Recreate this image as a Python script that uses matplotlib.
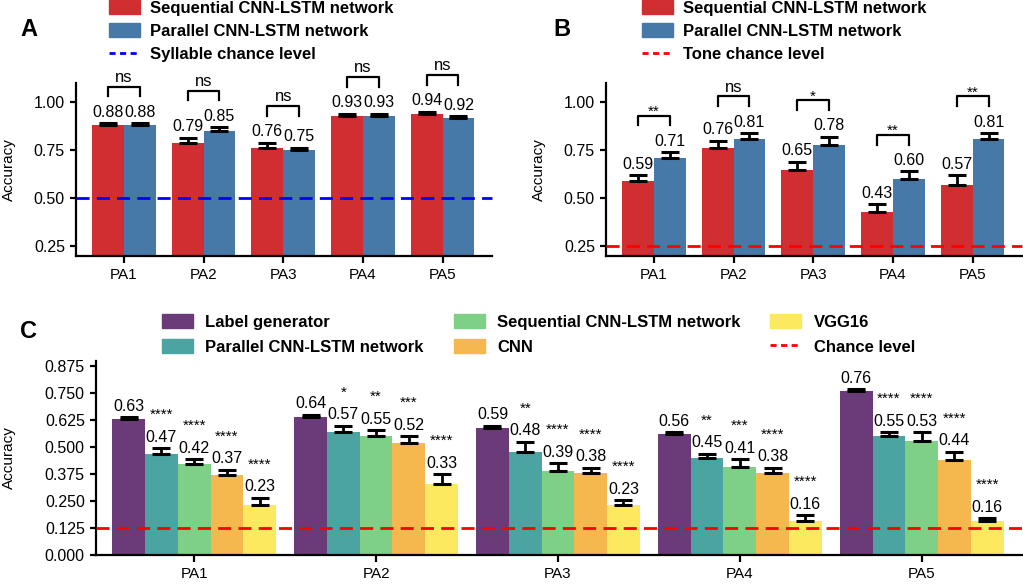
import numpy as np
import matplotlib.pyplot as plt
from matplotlib.patches import Patch
from matplotlib.lines import Line2D

plt.rcParams['font.family'] = ['Liberation Sans', 'DejaVu Sans']

# =========================================
# DATA
# =========================================

participants = ["PA1", "PA2", "PA3", "PA4", "PA5"]

# panel A : syllable
syl_seq = [0.88, 0.79, 0.76, 0.93, 0.94]
syl_seq_err = [0.01, 0.025, 0.03, 0.01, 0.01]
syl_par = [0.88, 0.85, 0.75, 0.93, 0.92]
syl_par_err = [0.01, 0.02, 0.013, 0.01, 0.007]
syl_sig = ["ns", "ns", "ns", "ns", "ns"]
syl_chance = 0.5

# panel B : tone
tone_seq = [0.59, 0.76, 0.65, 0.43, 0.57]
tone_seq_err = [0.03, 0.04, 0.04, 0.04, 0.05]
tone_par = [0.71, 0.81, 0.78, 0.60, 0.81]
tone_par_err = [0.03, 0.03, 0.04, 0.04, 0.03]
tone_sig = ["**", "ns", "*", "**", "**"]
tone_chance = 0.25

# panel C : label
models = ["Label generator", "Parallel CNN-LSTM network",
          "Sequential CNN-LSTM network", "CNN", "VGG16"]
label_gen = [0.63, 0.64, 0.59, 0.56, 0.76]
label_gen_err = [0.01, 0.01, 0.01, 0.01, 0.01]
label_par = [0.47, 0.57, 0.48, 0.45, 0.55]
label_par_err = [0.025, 0.03, 0.045, 0.02, 0.02]
label_seq = [0.42, 0.55, 0.39, 0.41, 0.53]
label_seq_err = [0.025, 0.03, 0.035, 0.035, 0.04]
label_cnn = [0.37, 0.52, 0.38, 0.38, 0.44]
label_cnn_err = [0.025, 0.03, 0.025, 0.025, 0.04]
label_vgg = [0.23, 0.33, 0.23, 0.16, 0.16]
label_vgg_err = [0.035, 0.045, 0.025, 0.025, 0.01]
sig_par = ["****", "*", "**", "**", "****"]
sig_seq = ["****", "**", "****", "***", "****"]
sig_cnn = ["****", "***", "****", "****", "****"]
sig_vgg = ["****", "****", "****", "****", "****"]
label_chance = 0.125

# =========================================
# STYLE
# =========================================

RED = "#D12E32"
BLUE = "#4779A8"
C_COLORS = ["#6A3B78", "#4BA3A2", "#7DD085", "#F5B84F", "#FDE95F"]

FS_TICK = 11.5
FS_VAL = 11.5
FS_LEG = 12

fig = plt.figure(figsize=(10.23, 5.85), dpi=100)

axA = fig.add_axes([0.0743, 0.5624, 0.4066, 0.2957])
axB = fig.add_axes([0.5924, 0.5624, 0.4066, 0.2957])
axC = fig.add_axes([0.0938, 0.0513, 0.905, 0.3316])


def style_axis(ax):
    ax.spines["top"].set_visible(False)
    ax.spines["right"].set_visible(False)
    for s in ["left", "bottom"]:
        ax.spines[s].set_linewidth(1.6)
    ax.tick_params(axis="both", width=1.6, length=4.5, labelsize=FS_TICK)
    ax.tick_params(axis="x", length=5, labelsize=11)
    ax.set_ylabel("Accuracy", fontsize=11)


def add_bars(ax, x, vals, errs, color, width):
    ax.bar(x, vals, width, color=color, zorder=2)
    ax.errorbar(x, vals, yerr=[np.zeros(len(vals)), errs], fmt="none",
                ecolor="black", elinewidth=2, capsize=6.5, capthick=2.2,
                zorder=3)
    for xi, v, e in zip(x, vals, errs):
        ax.annotate(f"{v:.2f}", (xi, v + e), xytext=(0, 2.5),
                    textcoords="offset points", ha="center", va="bottom",
                    fontsize=FS_VAL, zorder=4)


def add_bracket(ax, x1, x2, y, leg, text):
    ax.plot([x1, x1, x2, x2], [y, y + leg, y + leg, y], color="black",
            lw=1.6, clip_on=False, zorder=4)
    if text == "ns":
        ax.annotate(text, ((x1 + x2) / 2, y + leg), xytext=(0, 3.5),
                    textcoords="offset points", ha="center",
                    va="baseline", fontsize=12, annotation_clip=False)
    else:
        ax.annotate(text, ((x1 + x2) / 2, y + leg), xytext=(0, 0),
                    textcoords="offset points", ha="center",
                    va="baseline", fontsize=11, annotation_clip=False)


def pair_panel(ax, seq, seq_err, par, par_err, sig, chance, chance_color,
               chance_label, letter, letter_x):
    x = np.arange(len(participants))
    w = 0.4
    add_bars(ax, x - w / 2, seq, seq_err, RED, w)
    add_bars(ax, x + w / 2, par, par_err, BLUE, w)
    ax.axhline(chance, color=chance_color, lw=2, dashes=(4.7, 2.6),
               zorder=3, clip_on=False)
    top = np.maximum(np.array(seq) + seq_err, np.array(par) + par_err)
    for i in range(len(x)):
        add_bracket(ax, x[i] - w / 2, x[i] + w / 2, top[i] + 0.14, 0.05,
                    sig[i])
    ax.set_xticks(x)
    ax.set_xticklabels(participants)
    ax.set_xlim(-0.6, 4.62)
    ax.set_ylim(0.2, 1.1)
    ax.set_yticks([0.25, 0.5, 0.75, 1.0])
    ax.set_yticklabels(["0.25", "0.50", "0.75", "1.00"])
    style_axis(ax)
    ax.yaxis.set_label_coords(-0.145, 0.5)

    handles = [Patch(color=RED), Patch(color=BLUE),
               Line2D([0], [0], color=chance_color, lw=2, dashes=(2.2, 1.6))]
    labels = ["Sequential CNN-LSTM network", "Parallel CNN-LSTM network",
              chance_label]
    fig.legend(handles, labels, loc="upper left",
               bbox_to_anchor=(letter_x + 89 / 1023, 1.0),
               frameon=False, prop={"weight": "bold", "size": FS_LEG},
               handlelength=1.85, handleheight=0.9, handletextpad=0.6,
               labelspacing=0.45, borderpad=0, borderaxespad=0)
    fig.text(letter_x, 1 - 30 / 585, letter, fontsize=17,
             fontweight="bold", va="center", ha="left")


# =========================================
# PANELS A AND B
# =========================================

pair_panel(axA, syl_seq, syl_seq_err, syl_par, syl_par_err, syl_sig,
           syl_chance, "#0000FF", "Syllable chance level", "A", 20 / 1023)
pair_panel(axB, tone_seq, tone_seq_err, tone_par, tone_par_err, tone_sig,
           tone_chance, "#FF0000", "Tone chance level", "B", 553 / 1023)

# =========================================
# PANEL C
# =========================================

x = np.arange(len(participants))
w = 0.18
series = [label_gen, label_par, label_seq, label_cnn, label_vgg]
errors = [label_gen_err, label_par_err, label_seq_err, label_cnn_err,
          label_vgg_err]
sigs = [None, sig_par, sig_seq, sig_cnn, sig_vgg]

for k in range(len(series)):
    xs = x + (k - 2) * w
    add_bars(axC, xs, series[k], errors[k], C_COLORS[k], w)
    if sigs[k] is not None:
        for xi, v, e, s in zip(xs, series[k], errors[k], sigs[k]):
            axC.annotate(s, (xi, v + e), xytext=(0, 21),
                         textcoords="offset points", ha="center",
                         va="baseline", fontsize=11, zorder=4)

axC.axhline(label_chance, color="#FF0000", lw=2, dashes=(4.7, 2.6),
            zorder=3)
axC.set_xticks(x)
axC.set_xticklabels(participants)
axC.set_xlim(-0.54, 4.55)
axC.set_ylim(0, 0.9)
yt = np.arange(0, 0.876, 0.125)
axC.set_yticks(yt)
axC.set_yticklabels([f"{t:.3f}" for t in yt])
style_axis(axC)
axC.yaxis.set_label_coords(-0.086, 0.5)

handles = [Patch(color=c) for c in C_COLORS]
handles.append(Line2D([0], [0], color="#FF0000", lw=2, dashes=(2.2, 1.6)))
labels = models + ["Chance level"]
fig.legend(handles, labels, loc="upper left", ncol=3,
           bbox_to_anchor=(162 / 1023, 1 - 314 / 585),
           frameon=False, prop={"weight": "bold", "size": FS_LEG},
           handlelength=1.85, handleheight=0.9, handletextpad=0.75,
           labelspacing=0.55, columnspacing=1.8, borderpad=0,
           borderaxespad=0)
fig.text(20 / 1023, 1 - 332 / 585, "C", fontsize=17, fontweight="bold",
         va="center", ha="left")

fig.savefig("out.png", dpi=100)
